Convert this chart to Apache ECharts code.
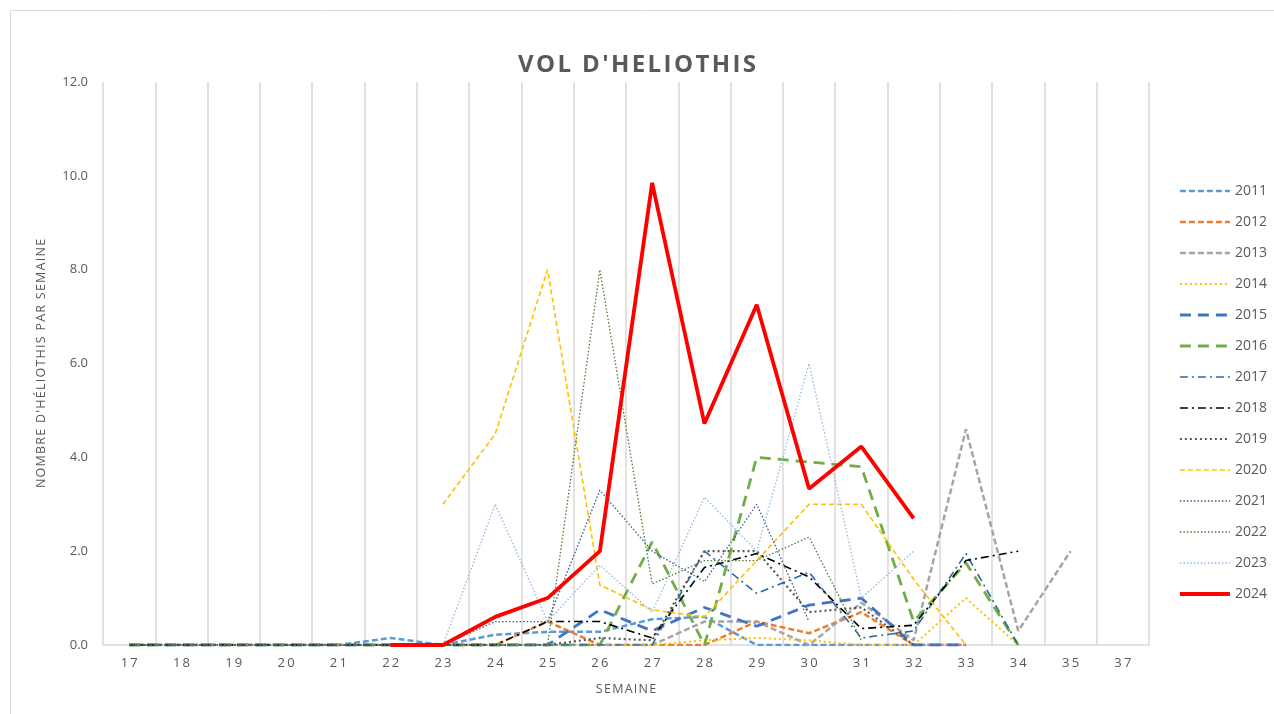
<!DOCTYPE html>
<html>
<head>
<meta charset="utf-8">
<script src="https://cdn.jsdelivr.net/npm/echarts@6/dist/echarts.min.js"></script>
<style>html,body{margin:0;padding:0;background:#fff;}#c{width:1274px;height:714px;}</style>
</head>
<body>
<div id="c"></div>
<script>
const weeks = ['17','18','19','20','21','22','23','24','25','26','27','28','29','30','31','32','33','34','35','37'];
const yTicks = [0, 2, 4, 6, 8, 10, 12];
const s2011 = [0,0,0,0,0,0.15,0,0.22,0.28,0.28,0.55,0.6,0,0,0,0,0,null,null,null];
const s2012 = [0,0,0,0,0,0,0,0,0.5,0,0,0,0.5,0.25,0.7,0,0,null,null,null];
const s2013 = [0,0,0,0,0,0,0,0,0,0,0,0.5,0.5,0,0.9,0.1,4.6,0.3,2.0,null];
const s2014 = [0,0,0,0,0,0,0,0,0,0,0,0.1,0.15,0.1,0,0,1.0,0,null,null];
const s2015 = [0,0,0,0,0,0,0,0,0,0.75,0.3,0.8,0.4,0.85,1.0,0,0,null,null,null];
const s2016 = [0,0,0,0,0,0,0,0,0,0,2.2,0,4.0,3.9,3.8,0.5,1.75,0,null,null];
const s2017 = [0,0,0,0,0,0,0,0,0,0,0,2.0,1.1,1.55,0.15,0.3,1.95,0,null,null];
const s2018 = [0,0,0,0,0,0,0,0,0.5,0.5,0.15,1.65,1.95,1.45,0.35,0.42,1.8,2.0,null,null];
const s2019 = [0,0,0,0,0,0,0,0,0,0.15,0.1,2.0,2.0,0.7,0.8,0,null,null,null,null];
const s2020 = [null,null,null,null,null,null,3.0,4.5,8.0,1.28,0.75,0.6,1.8,3.0,3.0,1.4,0,null,null,null];
const s2021 = [0,0,0,0,0,0,0,0.5,0.5,3.3,2.0,1.35,3.0,0.5,null,null,null,null,null,null];
const s2022 = [0,0,0,0,0,0,0,0,0,8.0,1.3,1.8,1.8,2.3,0.1,null,null,null,null,null];
const s2023 = [null,null,null,null,null,null,0,3.0,0.5,1.7,0.7,3.15,2.0,6.0,1.0,2.0,null,null,null,null];
const s2024 = [null,null,null,null,null,0,0,0.6,1.0,2.0,9.85,4.72,7.25,3.33,4.23,2.7,null,null,null,null];

const styles = [
  {name:'2011', data:s2011, color:'#5B9BD5', width:2.5, type:[6,3]},
  {name:'2012', data:s2012, color:'#ED7D31', width:2.5, type:[6,3]},
  {name:'2013', data:s2013, color:'#A5A5A5', width:2.5, type:[6,3]},
  {name:'2014', data:s2014, color:'#FFC000', width:2, type:[2,3]},
  {name:'2015', data:s2015, color:'#4472C4', width:2.8, type:[11,7]},
  {name:'2016', data:s2016, color:'#70AD47', width:2.8, type:[11,7]},
  {name:'2017', data:s2017, color:'#2E67A8', width:1.6, type:[8,4,2,4]},
  {name:'2018', data:s2018, color:'#000000', width:1.6, type:[8,4,2,4]},
  {name:'2019', data:s2019, color:'#595959', width:2.2, type:[2,3]},
  {name:'2020', data:s2020, color:'#FFC000', width:1.6, type:[5,3]},
  {name:'2021', data:s2021, color:'#3C5A8C', width:1.3, type:[1.5,2]},
  {name:'2022', data:s2022, color:'#4F7A30', width:1.3, type:[1.5,2]},
  {name:'2023', data:s2023, color:'#8DB8E4', width:1.3, type:[1.5,2]},
  {name:'2024', data:s2024, color:'#FF0000', width:3.8, type:'solid'}
];

const spaced = t => t.split('').join('\u200A');
const chart = echarts.init(document.getElementById('c'));
const font = 'Open Sans';
chart.setOption({
  animation: false,
  backgroundColor: '#fff',
  textStyle: {fontFamily: font},
  graphic: [{type:'rect', shape:{x:10.5,y:10.5,width:1400,height:900}, style:{fill:'none', stroke:'#d9d9d9', lineWidth:1}}],
  title: {
    text: spaced("VOL D'HELIOTHIS"),
    left: 'center', top: 48,
    textStyle: {fontSize: 24, fontWeight: 'bold', color: '#595959', fontFamily: font}
  },
  legend: {
    orient: 'vertical', left: 1173, top: 179,
    itemWidth: 50, itemHeight: 14, itemGap: 17,
    itemStyle: {opacity: 0},
    textStyle: {fontSize: 14, color: '#595959', fontFamily: font},
    data: styles.map(s => ({name: s.name, lineStyle: {color: s.color, width: s.width, type: s.type}}))
  },
  grid: {left: 103, right: 125, top: 82, bottom: 69},
  xAxis: {
    type: 'category', data: weeks, boundaryGap: true,
    name: spaced('SEMAINE'), nameLocation: 'middle', nameGap: 38,
    nameTextStyle: {fontSize: 12.5, color: '#595959'},
    axisLine: {show: true, lineStyle: {color: '#d9d9d9', width: 1.5}},
    axisTick: {show: false},
    splitLine: {show: true, lineStyle: {color: '#d9d9d9', width: 1.5}},
    axisLabel: {fontSize: 13, color: '#595959', margin: 12, formatter: v => v.split('').join('\u2009')}
  },
  yAxis: {
    type: 'value', min: yTicks[0], max: yTicks[yTicks.length-1], interval: 2,
    name: spaced("NOMBRE D'HÉLIOTHIS PAR SEMAINE"), nameLocation: 'middle', nameGap: 55,
    nameTextStyle: {fontSize: 12.5, color: '#595959'},
    axisLine: {show: false}, axisTick: {show: false}, splitLine: {show: false},
    axisLabel: {fontSize: 13, color: '#595959', margin: 15, formatter: v => v.toFixed(1)}
  },
  series: styles.map(s => ({
    name: s.name, type: 'line', data: s.data, symbol: 'none', connectNulls: false,
    color: s.color,
    lineStyle: {color: s.color, width: s.width, type: s.type},
    itemStyle: {color: s.color},
    z: s.name === '2024' ? 5 : 2
  }))
});
</script>
</body>
</html>
